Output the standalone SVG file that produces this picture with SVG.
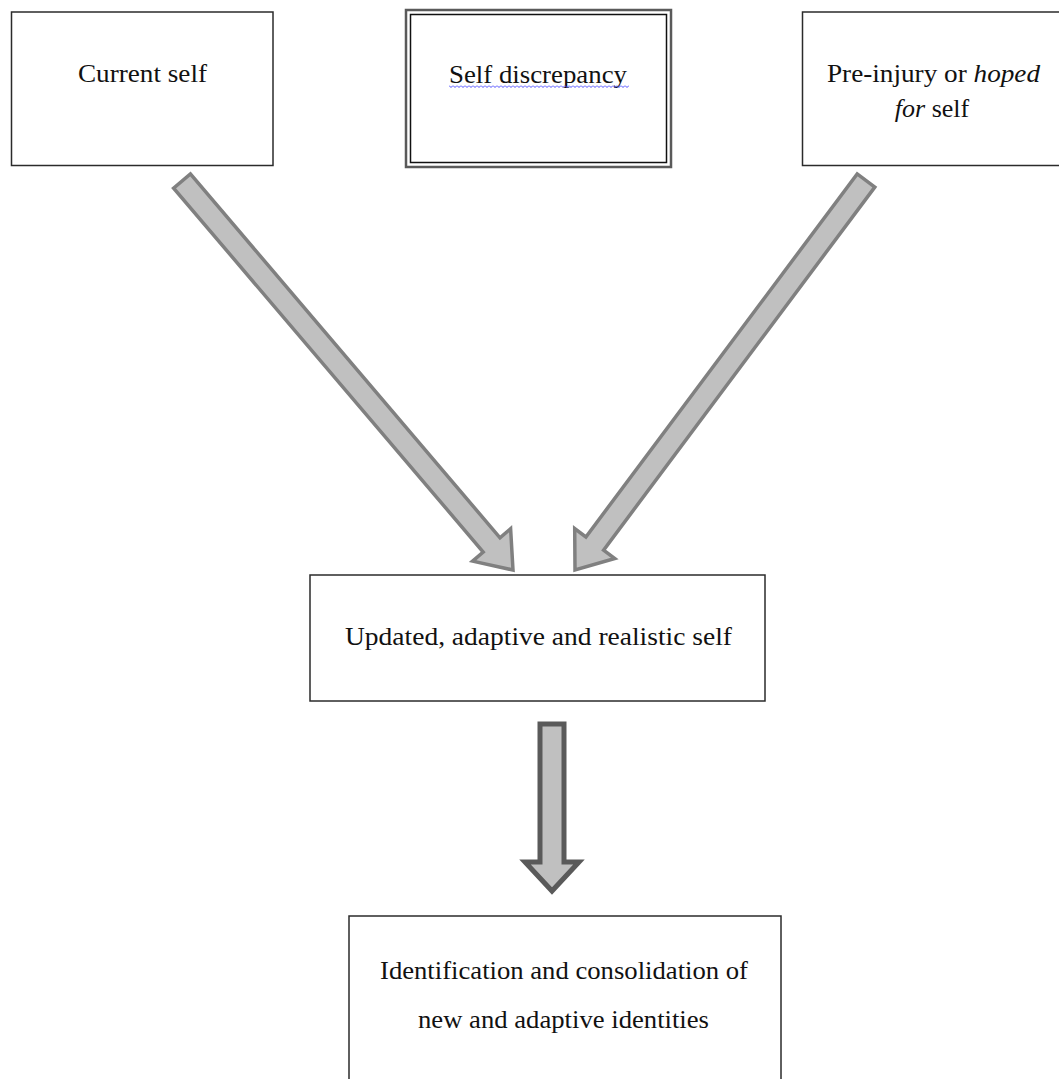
<svg xmlns="http://www.w3.org/2000/svg" width="1059" height="1079" viewBox="0 0 1059 1079">
  <style>
    .box { fill: #ffffff; stroke: #2b2b2b; stroke-width: 1.5; }
    .lbl { font-family: "Liberation Serif", "Times New Roman", serif; font-size: 26px; fill: #111111; text-anchor: middle; }
    .arrow { fill: #c0c0c0; stroke: #808080; stroke-width: 3.5; stroke-linejoin: miter; }
    .arrow-dark { fill: #c0c0c0; stroke: #5a5a5a; stroke-width: 5; stroke-linejoin: miter; }
  </style>
  <defs>
    <!-- one period of the spell-check squiggle -->
    <pattern id="squiggle" x="449" y="85" width="4" height="3" patternUnits="userSpaceOnUse">
      <path d="M0,0.5 L2,2.5 L4,0.5" fill="none" stroke="#4a4aff" stroke-width="1"/>
    </pattern>
  </defs>
  <rect width="1059" height="1079" fill="#ffffff"/>

  <g id="connectors">
    <!-- current self -> updated self -->
    <polygon class="arrow" points="190.4,173.9 500.0,537.8 510.6,528.7 513,570 472.6,561.1 483.2,552.0 173.6,188.1"/>
    <!-- pre-injury self -> updated self -->
    <polygon class="arrow" points="874.8,187.1 603.6,550.1 614.8,558.5 575,570 574.7,528.6 585.9,537.0 857.2,173.9"/>
    <!-- updated self -> new identities -->
    <path class="arrow-dark" d="M540,724 H564 V862 H579 L552,891 L525,862 H540 Z"/>
  </g>

  <g id="current-self">
    <rect class="box" x="11.5" y="12" width="261.5" height="153.5"/>
    <text class="lbl" x="142.5" y="82" textLength="129" lengthAdjust="spacingAndGlyphs">Current self</text>
  </g>

  <g id="self-discrepancy">
    <rect x="406" y="10" width="265" height="157" fill="#ffffff" stroke="#5a5a5a" stroke-width="2.5"/>
    <rect x="410.5" y="14.5" width="256" height="148" fill="none" stroke="#111111" stroke-width="1.5"/>
    <text class="lbl" x="538" y="82.5" textLength="178" lengthAdjust="spacingAndGlyphs">Self discrepancy</text>
    <rect x="449" y="85" width="180" height="3" fill="url(#squiggle)"/>
  </g>

  <g id="hoped-for-self">
    <rect class="box" x="802.5" y="12" width="262" height="153.5"/>
    <text class="lbl" x="933.5" y="82" textLength="213" lengthAdjust="spacingAndGlyphs">Pre-injury or <tspan font-style="italic">hoped</tspan></text>
    <text class="lbl" x="932" y="117"><tspan font-style="italic">for</tspan> self</text>
  </g>

  <g id="updated-self">
    <rect class="box" x="310" y="575" width="455" height="126" stroke="#3a3a3a" stroke-width="2"/>
    <text class="lbl" x="538.5" y="645" textLength="387" lengthAdjust="spacingAndGlyphs">Updated, adaptive and realistic self</text>
  </g>

  <g id="new-identities">
    <rect class="box" x="349" y="916" width="432" height="180" stroke="#5a5a5a" stroke-width="2"/>
    <text class="lbl" x="564" y="979" textLength="368" lengthAdjust="spacingAndGlyphs">Identification and consolidation of</text>
    <text class="lbl" x="563.5" y="1028" textLength="291" lengthAdjust="spacingAndGlyphs">new and adaptive identities</text>
  </g>
</svg>
